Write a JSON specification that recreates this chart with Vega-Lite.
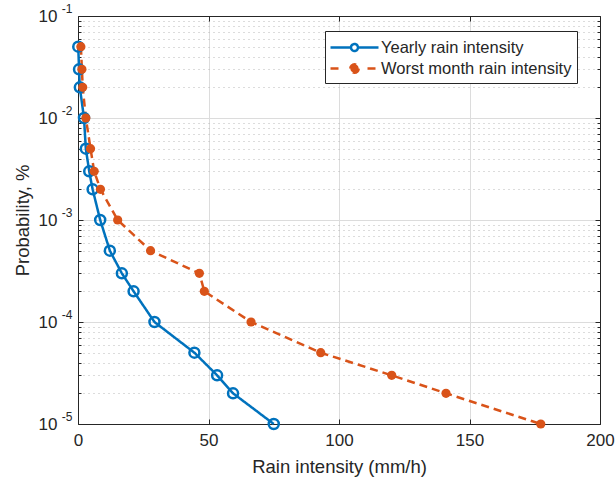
{
  "$schema": "https://vega.github.io/schema/vega-lite/v6.json",
  "autosize": "none",
  "width": 522,
  "height": 408,
  "padding": {"left": 78, "top": 16, "right": 16, "bottom": 63},
  "background": "white",
  "config": {
    "font": "Liberation Sans",
    "view": {"stroke": null},
    "axis": {"labelFont": "Liberation Sans", "titleFont": "Liberation Sans", "labelColor": "#262626", "titleColor": "#262626", "domainColor": "#262626", "tickColor": "#262626", "titleFontWeight": "normal", "minExtent": 0, "maxExtent": 0, "offset": 0, "labelFlush": false}
  },
  "data": {"values": [
    {"series": "Yearly rain intensity", "x": 0.1, "p": 0.05},
    {"series": "Yearly rain intensity", "x": 0.4, "p": 0.03},
    {"series": "Yearly rain intensity", "x": 0.7, "p": 0.02},
    {"series": "Yearly rain intensity", "x": 2.3, "p": 0.01},
    {"series": "Yearly rain intensity", "x": 3.0, "p": 0.005},
    {"series": "Yearly rain intensity", "x": 4.3, "p": 0.003},
    {"series": "Yearly rain intensity", "x": 5.6, "p": 0.002},
    {"series": "Yearly rain intensity", "x": 8.5, "p": 0.001},
    {"series": "Yearly rain intensity", "x": 12.2, "p": 0.0005},
    {"series": "Yearly rain intensity", "x": 16.8, "p": 0.0003},
    {"series": "Yearly rain intensity", "x": 21.3, "p": 0.0002},
    {"series": "Yearly rain intensity", "x": 29.3, "p": 0.0001},
    {"series": "Yearly rain intensity", "x": 44.6, "p": 0.00005},
    {"series": "Yearly rain intensity", "x": 53.3, "p": 0.00003},
    {"series": "Yearly rain intensity", "x": 59.4, "p": 0.00002},
    {"series": "Yearly rain intensity", "x": 75.0, "p": 0.00001},
    {"series": "Worst month rain intensity", "x": 1.1, "p": 0.05},
    {"series": "Worst month rain intensity", "x": 1.5, "p": 0.03},
    {"series": "Worst month rain intensity", "x": 1.8, "p": 0.02},
    {"series": "Worst month rain intensity", "x": 3.0, "p": 0.01},
    {"series": "Worst month rain intensity", "x": 4.8, "p": 0.005},
    {"series": "Worst month rain intensity", "x": 6.2, "p": 0.003},
    {"series": "Worst month rain intensity", "x": 8.6, "p": 0.002},
    {"series": "Worst month rain intensity", "x": 15.2, "p": 0.001},
    {"series": "Worst month rain intensity", "x": 27.8, "p": 0.0005},
    {"series": "Worst month rain intensity", "x": 46.5, "p": 0.0003},
    {"series": "Worst month rain intensity", "x": 48.4, "p": 0.0002},
    {"series": "Worst month rain intensity", "x": 66.3, "p": 0.0001},
    {"series": "Worst month rain intensity", "x": 93.0, "p": 0.00005},
    {"series": "Worst month rain intensity", "x": 120.2, "p": 0.00003},
    {"series": "Worst month rain intensity", "x": 141.0, "p": 0.00002},
    {"series": "Worst month rain intensity", "x": 177.3, "p": 0.00001}
  ]},
  "resolve": {"axis": {"x": "independent", "y": "independent"}},
  "layer": [
    {
      "mark": {"type": "line", "strokeWidth": 2.5},
      "encoding": {
        "x": {"field": "x", "type": "quantitative", "scale": {"domain": [0, 200], "nice": false, "zero": false},
          "axis": {"values": [0, 50, 100, 150, 200], "title": "Rain intensity (mm/h)", "titleFontSize": 18.5, "labelFontSize": 17, "ticks": false, "labelPadding": 8, "titlePadding": 33, "grid": true, "gridColor": "#dcdcdc", "gridWidth": 1, "domain": true, "domainWidth": 1}},
        "y": {"field": "p", "type": "quantitative", "scale": {"type": "log", "domain": [0.00001, 0.1], "nice": false},
          "axis": {
            "values": [0.00001, 0.00002, 0.00003, 0.00004, 0.00005, 0.00006, 0.00007, 0.00008, 0.00009, 0.0001, 0.0002, 0.0003, 0.0004, 0.0005, 0.0006, 0.0007, 0.0008, 0.0009, 0.001, 0.002, 0.003, 0.004, 0.005, 0.006, 0.007, 0.008, 0.009, 0.01, 0.02, 0.03, 0.04, 0.05, 0.06, 0.07, 0.08, 0.09, 0.1],
            "labelExpr": "abs(log(datum.value)/LN10 - round(log(datum.value)/LN10)) > 0.001 ? '' : '10'",
            "title": "Probability, %", "titleFontSize": 18.5, "labelFontSize": 17, "ticks": false, "labelPadding": 21, "labelAlign": "right", "titlePadding": 46,
            "grid": true, "gridColor": {"condition": {"test": "abs(log(datum.value)/LN10 - round(log(datum.value)/LN10)) > 0.001", "value": "#b8b8b8"}, "value": "#dcdcdc"},
            "gridDash": {"condition": {"test": "abs(log(datum.value)/LN10 - round(log(datum.value)/LN10)) > 0.001", "value": [1, 4]}, "value": []},
            "domain": true, "domainWidth": 1, "labelOverlap": false
          }},
        "color": {"field": "series", "type": "nominal",
          "scale": {"domain": ["Yearly rain intensity", "Worst month rain intensity"], "range": ["#0072BD", "#D95319"]},
          "legend": {
            "title": null, "orient": "none", "legendX": 247, "legendY": 15,
            "labelFontSize": 16.5, "labelColor": "#262626", "labelFont": "Liberation Sans", "labelLimit": 0,
            "fillColor": "white", "strokeColor": "#262626", "padding": 5, "rowPadding": 1,
            "symbolSize": 400, "symbolOffset": 13, "labelOffset": 15, "symbolStrokeWidth": 2.5,
            "encode": {"symbols": {"update": {
              "shape": {"signal": "datum.value == 'Yearly rain intensity' ? 'M-2.4,0H-0.35M0.35,0H2.4M-0.35,0A0.35,0.35,0,1,1,0.35,0A0.35,0.35,0,1,1,-0.35,0' : 'M-2.4,0H-1.3M1.3,0H2.4M-0.42,0A0.42,0.42,0,1,1,0.42,0A0.42,0.42,0,1,1,-0.42,0'"},
              "fill": {"signal": "datum.value == 'Yearly rain intensity' ? 'transparent' : '#D95319'"},
              "stroke": {"signal": "datum.value == 'Yearly rain intensity' ? '#0072BD' : '#D95319'"},
              "strokeDash": {"value": []},
              "strokeWidth": {"value": 2.5},
              "size": {"value": 400},
              "opacity": {"value": 1}
            }}}
          }},
        "strokeDash": {"field": "series", "type": "nominal", "scale": {"domain": ["Yearly rain intensity", "Worst month rain intensity"], "range": [[1, 0], [8, 5]]}, "legend": null}
      }
    },
    {
      "transform": [{"filter": "datum.series == 'Yearly rain intensity'"}],
      "mark": {"type": "point", "shape": "circle", "filled": false, "stroke": "#0072BD", "strokeWidth": 2.5, "size": 100, "opacity": 1},
      "encoding": {
        "x": {"field": "x", "type": "quantitative", "axis": null},
        "y": {"field": "p", "type": "quantitative", "axis": null}
      }
    },
    {
      "transform": [{"filter": "datum.series == 'Worst month rain intensity'"}],
      "mark": {"type": "point", "shape": "circle", "filled": true, "fill": "#D95319", "size": 85, "opacity": 1},
      "encoding": {
        "x": {"field": "x", "type": "quantitative", "axis": null},
        "y": {"field": "p", "type": "quantitative", "axis": {"orient": "left", "values": [0.00001, 0.0001, 0.001, 0.01, 0.1], "labelExpr": "'-' + round(-log(datum.value)/LN10)", "labelFontSize": 12, "labelPadding": 6, "labelAlign": "right", "labelOffset": -8, "ticks": false, "domain": false, "grid": false, "title": null, "labelOverlap": false}}
      }
    },
    {
      "mark": {"type": "point", "opacity": 0},
      "encoding": {
        "x": {"field": "x", "type": "quantitative", "axis": {"orient": "top", "values": [0, 50, 100, 150, 200], "labels": false, "title": null, "grid": false, "tickSize": -5, "domain": true, "domainWidth": 1}},
        "y": {"field": "p", "type": "quantitative", "axis": {"orient": "right", "values": [0.00001, 0.00002, 0.00003, 0.00004, 0.00005, 0.00006, 0.00007, 0.00008, 0.00009, 0.0001, 0.0002, 0.0003, 0.0004, 0.0005, 0.0006, 0.0007, 0.0008, 0.0009, 0.001, 0.002, 0.003, 0.004, 0.005, 0.006, 0.007, 0.008, 0.009, 0.01, 0.02, 0.03, 0.04, 0.05, 0.06, 0.07, 0.08, 0.09, 0.1], "labels": false, "title": null, "grid": false, "domain": true, "domainWidth": 1,
          "tickSize": {"condition": {"test": "abs(log(datum.value)/LN10 - round(log(datum.value)/LN10)) > 0.001", "value": -3}, "value": -5}}}
      }
    },
    {
      "mark": {"type": "point", "opacity": 0},
      "encoding": {
        "x": {"field": "x", "type": "quantitative", "axis": {"orient": "bottom", "values": [0, 50, 100, 150, 200], "labels": false, "title": null, "grid": false, "tickSize": -5, "domain": false}},
        "y": {"field": "p", "type": "quantitative", "axis": {"orient": "left", "values": [0.00001, 0.00002, 0.00003, 0.00004, 0.00005, 0.00006, 0.00007, 0.00008, 0.00009, 0.0001, 0.0002, 0.0003, 0.0004, 0.0005, 0.0006, 0.0007, 0.0008, 0.0009, 0.001, 0.002, 0.003, 0.004, 0.005, 0.006, 0.007, 0.008, 0.009, 0.01, 0.02, 0.03, 0.04, 0.05, 0.06, 0.07, 0.08, 0.09, 0.1], "labels": false, "title": null, "grid": false, "domain": false,
          "tickSize": {"condition": {"test": "abs(log(datum.value)/LN10 - round(log(datum.value)/LN10)) > 0.001", "value": -3}, "value": -5}}}
      }
    }
  ]
}
